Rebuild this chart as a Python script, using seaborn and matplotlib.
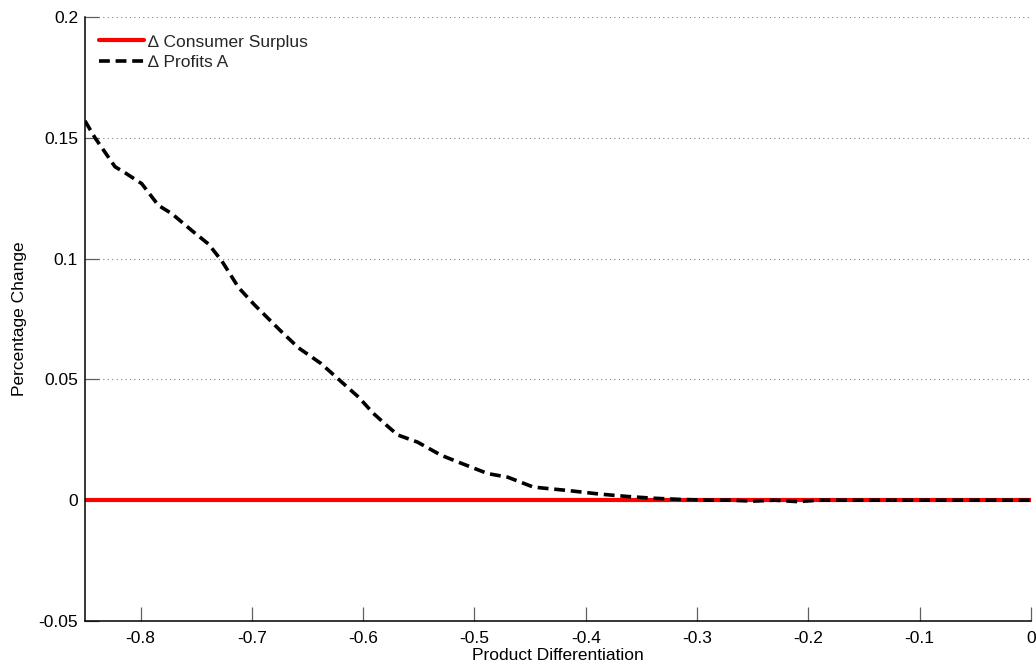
import numpy as np
import pandas as pd
import matplotlib
matplotlib.use("Agg")
import matplotlib.pyplot as plt
import seaborn as sns

sns.set_style("white")
plt.rcParams['font.family'] = ['Liberation Sans', 'DejaVu Sans']

# product differentiation (x) and change in profits of firm A
diff = [-0.850, -0.841, -0.823, -0.814, -0.799, -0.784, -0.772, -0.754, -0.739, -0.727,
        -0.712, -0.698, -0.674, -0.658, -0.638, -0.622, -0.604, -0.591, -0.579, -0.569,
        -0.551, -0.530, -0.512, -0.488, -0.470, -0.447, -0.416, -0.387, -0.362, -0.339,
        -0.315, -0.288, -0.270, -0.250, -0.230, -0.210, -0.190, -0.150, -0.100, -0.050, 0.0]
profits_a = [0.157, 0.150, 0.138, 0.1355, 0.131, 0.122, 0.1186, 0.1116, 0.106, 0.099,
             0.088, 0.081, 0.070, 0.063, 0.0566, 0.050, 0.0426, 0.036, 0.031, 0.027,
             0.024, 0.0186, 0.0153, 0.011, 0.0095, 0.0054, 0.004, 0.0025, 0.0015, 0.0008,
             0.0003, 0.0, 0.0, -0.0004, 0.0, -0.0006, 0.0, 0.0, 0.0, 0.0, 0.0]
consumer_surplus = [0.0] * len(diff)

df = pd.DataFrame({"diff": diff, "cs": consumer_surplus, "pa": profits_a})

fig = plt.figure(figsize=(10.36, 6.66), dpi=100)
ax = fig.add_axes([0.082, 0.0676, 0.913, 0.907])

sns.lineplot(data=df, x="diff", y="cs", color="#ff0000", linewidth=3.0,
             label="\u2206 Consumer Surplus", ax=ax)
sns.lineplot(data=df, x="diff", y="pa", color="black", linewidth=2.6,
             linestyle=(0, (3, 1.6)), label="\u2206 Profits A", ax=ax)

ax.set_xlim(-0.85, 0)
ax.set_ylim(-0.05, 0.2)
ax.set_xticks(np.arange(-0.8, 0.01, 0.1))
ax.set_xticklabels(["-0.8", "-0.7", "-0.6", "-0.5", "-0.4", "-0.3", "-0.2", "-0.1", "0"])
ax.set_yticks([-0.05, 0, 0.05, 0.1, 0.15, 0.2])
ax.set_yticklabels(["-0.05", "0", "0.05", "0.1", "0.15", "0.2"])
ax.tick_params(direction="in", length=10, width=0.9, labelsize=12.5,
               labelcolor="black", color="#606060", bottom=True, left=True)
ax.tick_params(axis="x", pad=7)
ax.tick_params(axis="y", pad=5)
ax.yaxis.grid(True, linestyle=(0, (1, 3)), color="#808080", linewidth=0.8)
ax.xaxis.grid(False)
for s in ["top", "right"]:
    ax.spines[s].set_visible(False)
for s in ["left", "bottom"]:
    ax.spines[s].set_color("black")
    ax.spines[s].set_linewidth(1.1)

ax.set_xlabel("Product Differentiation", fontsize=12.5, labelpad=2, color="black")
ax.set_ylabel("Percentage Change", fontsize=12.5, labelpad=8, color="black")

leg = ax.legend(loc="upper left", bbox_to_anchor=(-0.002, 0.997), frameon=False,
                fontsize=12.5, handlelength=2.6, handletextpad=0.25,
                borderaxespad=0.5, labelspacing=0.3)

fig.savefig("out.png", dpi=100)
